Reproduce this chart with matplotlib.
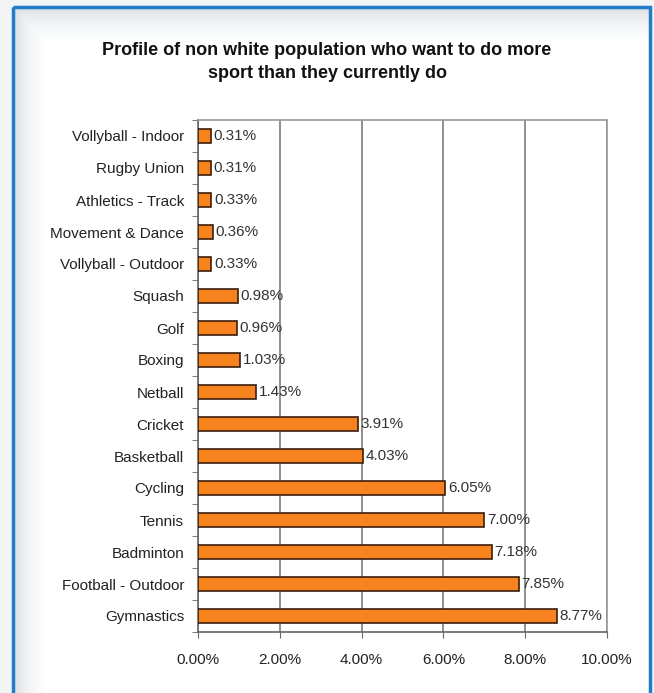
import numpy as np
import matplotlib.pyplot as plt
from matplotlib.patches import Rectangle

plt.rcParams['font.family'] = ['Liberation Sans', 'DejaVu Sans']

sports = ['Vollyball - Indoor', 'Rugby Union', 'Athletics - Track', 'Movement & Dance',
          'Vollyball - Outdoor', 'Squash', 'Golf', 'Boxing', 'Netball', 'Cricket',
          'Basketball', 'Cycling', 'Tennis', 'Badminton', 'Football - Outdoor', 'Gymnastics']
share = [0.31, 0.31, 0.33, 0.36, 0.33, 0.98, 0.96, 1.03, 1.43, 3.91,
         4.03, 6.05, 7.00, 7.18, 7.85, 8.77]
xticks = [0, 2, 4, 6, 8, 10]

W, H = 654, 693
fig = plt.figure(figsize=(W / 100, H / 100), dpi=100)
fig.patch.set_facecolor('#f3f5f7')

# background panel with blue frame and soft shadow inside it
bg = fig.add_axes([0, 0, 1, 1])
bg.set_xlim(0, W)
bg.set_ylim(H, 0)
bg.axis('off')
px = np.arange(W)
py = np.arange(H)
gx = np.clip((px - 14) / 32.0, 0, 1)
gy = np.clip((py - 8) / 32.0, 0, 1)
shade = 0.84 + 0.16 * np.sqrt(np.minimum.outer(gy, gx))
outside = np.logical_or.outer(py < 8, (px < 14) | (px > 649))
shade[outside] = 0.955
img = np.dstack([shade, shade + 0.005, shade + 0.01]).clip(0, 1)
bg.imshow(img, extent=(0, W, H, 0), aspect='auto', zorder=0)
bg.add_patch(Rectangle((13, 7), 637, 700, fill=False, edgecolor='#1f7cc8', lw=2.5, zorder=2))

ax = fig.add_axes([198 / W, 1 - 632 / H, 409 / W, 512 / H])
ax.set_facecolor('white')
y = np.arange(len(sports))
ax.barh(y, share, height=0.42, color='#f7821e', edgecolor='#3b1f0c', linewidth=1.2, zorder=3)
for yi, v in zip(y, share):
    ax.text(v + 0.06, yi, f'{v:.2f}%', va='center', ha='left', fontsize=11, color='#333333', zorder=4)

ax.set_xlim(0, 10)
ax.set_ylim(len(sports) - 0.5, -0.5)
ax.set_yticks(y)
ax.set_yticklabels(sports, fontsize=11, color='#222222')
ax.set_yticks(np.arange(len(sports) + 1) - 0.5, minor=True)
ax.tick_params(axis='y', which='major', length=0, pad=10)
ax.tick_params(axis='y', which='minor', length=4, color='#666666', direction='out')
ax.set_xticks(xticks)
ax.set_xticklabels([f'{t:.2f}%' for t in xticks], fontsize=11, color='#222222')
ax.tick_params(axis='x', length=4, color='#666666', pad=11)
ax.grid(axis='x', color='#7d7d7d', lw=1.2, zorder=1)
for s in ax.spines.values():
    s.set_color('#999999')
    s.set_linewidth(1.2)
ax.spines['left'].set_color('#666666')
ax.spines['bottom'].set_color('#666666')

fig.text(327 / W, 1 - 62 / H, 'Profile of non white population who want to do more\nsport than they currently do',
         ha='center', va='center', fontsize=13, fontweight='bold', color='#111111', linespacing=1.45)

fig.savefig('out.png', dpi=100, facecolor=fig.get_facecolor())
